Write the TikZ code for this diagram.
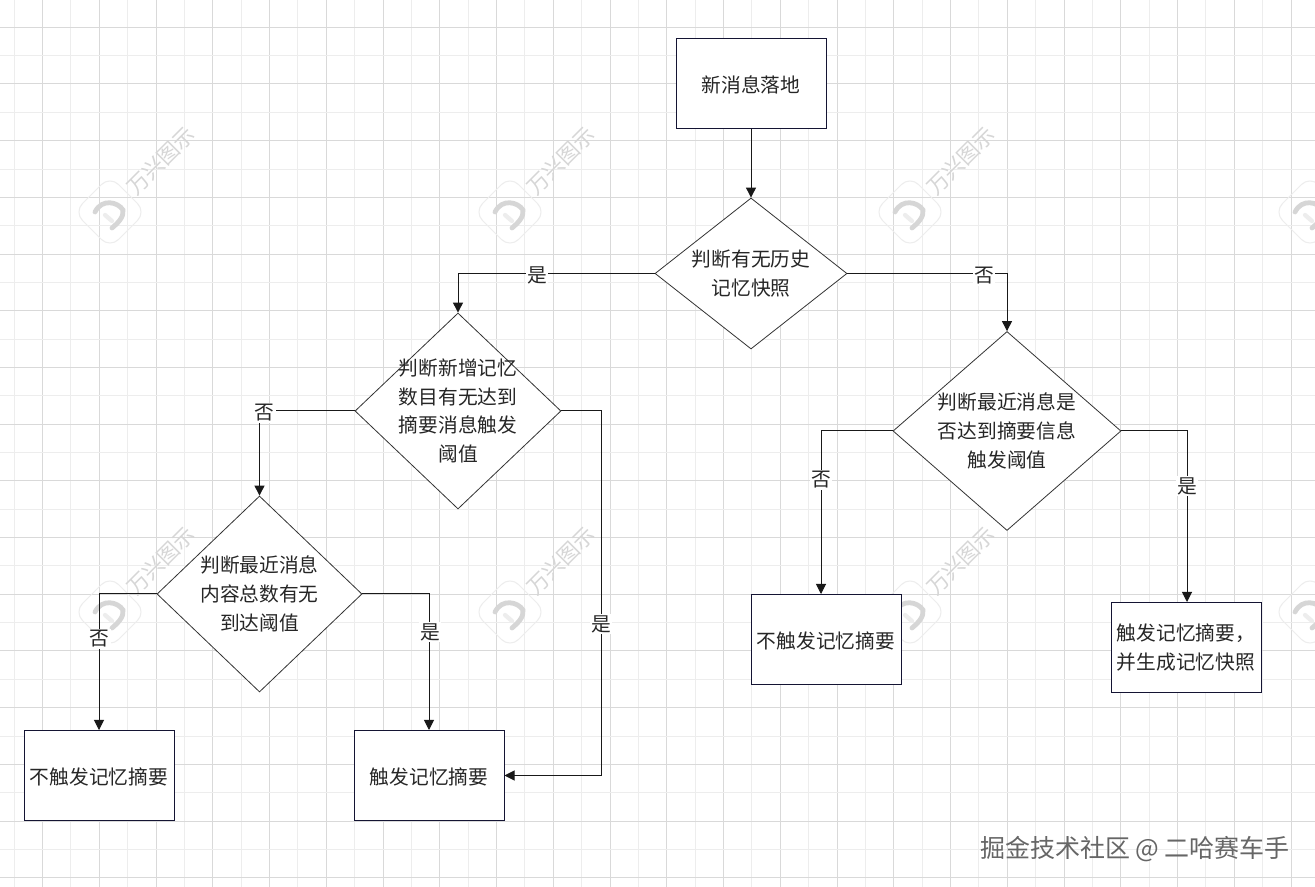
\documentclass[tikz,border=0pt]{standalone}
\usepackage{fontspec}
\usepackage{tikz}
\usetikzlibrary{arrows.meta,shapes.geometric}
\newfontfamily\cjk{Noto Sans CJK SC}
\definecolor{boxline}{rgb}{0.08,0.08,0.2}
\definecolor{gridmajor}{rgb}{0.85,0.85,0.85}
\definecolor{gridminor}{rgb}{0.93,0.93,0.93}
\definecolor{markgray}{rgb}{0.84,0.84,0.84}
\tikzset{
  stepbox/.style={draw=boxline,line width=0.75pt,fill=white,minimum width=112.5pt,minimum height=67.5pt,inner sep=0pt,align=center,text=black!85,font=\cjk\fontsize{14.8}{21.5}\selectfont,execute at begin node={\rule{0pt}{15.2pt}}},
  judge/.style={diamond,draw=black!80,line width=0.6pt,fill=white,inner sep=-20pt,align=center,text=black!85,font=\cjk\fontsize{14.8}{21.5}\selectfont,execute at begin node={\rule{0pt}{15.2pt}}},
  flow/.style={draw=black!90,line width=0.75pt,-{Triangle[length=7.5pt,width=7.5pt]}},
  branch/.style={fill=white,inner sep=1pt,text=black!85,font=\cjk\fontsize{14.8}{16}\selectfont},
  markname/.style={rotate=45,text=markgray,font=\cjk\fontsize{16}{16}\selectfont}
}

\begin{document}
\begin{tikzpicture}[x=0.75pt,y=0.75pt,yscale=-1,xscale=1]
\useasboundingbox (0,0) rectangle (1315,887);
\fill [white] (0,0) rectangle (1315,887);

%Grid
\foreach \i in {0,...,22} {
  \draw [gridminor,line width=0.75pt] ({14.1+56.75*\i},0) -- ({14.1+56.75*\i},887);
  \draw [gridmajor,line width=0.75pt] ({42.5+56.75*\i},0) -- ({42.5+56.75*\i},887);
}
\foreach \i in {0,...,14} {
  \draw [gridminor,line width=0.75pt] (0,{55.7+56.7*\i}) -- (1315,{55.7+56.7*\i});
}
\foreach \i in {0,...,15} {
  \draw [gridmajor,line width=0.75pt] (0,{27.3+56.7*\i}) -- (1315,{27.3+56.7*\i});
}

%Watermarks
\foreach \mx/\my in {110/212,510/212,910/212,1310/212,110/612,510/612,910/612,1310/612} {
  \draw [gridminor,line width=0.75pt,rounded corners=9pt] (\mx-36,\my) -- (\mx,\my-36) -- (\mx+36,\my) -- (\mx,\my+36) -- cycle;
  \draw [markgray,line width=3.6pt,line cap=round] (\mx-15,\my) .. controls (\mx-8,\my-14) and (\mx+8,\my-10) .. (\mx+13,\my-2) .. controls (\mx+14,\my+5) and (\mx+8,\my+11) .. (\mx+2,\my+16);
  \draw [gridminor,line width=3.2pt,line cap=round] (\mx-5,\my+3) -- (\mx+2,\my+9);
}
\foreach \mx/\my in {110/212,510/212,910/212,110/612,510/612,910/612} {
  \node [markname] (mark\mx\my) at (\mx+51,\my-51) {万兴图示};
}

%Process boxes
\node [stepbox] (start) at (751,83.5) {新消息落地};
\node [judge,minimum width=144pt,minimum height=113.25pt] (hist) at (751,273.5) {判断有无历史\\记忆快照};
\node [judge,minimum width=154.5pt,minimum height=147pt] (added) at (458,411) {判断新增记忆\\数目有无达到\\摘要消息触发\\阈值};
\node [judge,minimum width=171pt,minimum height=149.25pt] (recent) at (1007,431) {判断最近消息是\\否达到摘要信息\\触发阈值};
\node [judge,minimum width=153.75pt,minimum height=147pt] (total) at (259.5,594) {判断最近消息\\内容总数有无\\到达阈值};
\node [stepbox] (skipa) at (99,775.5) {不触发记忆摘要};
\node [stepbox] (firea) at (429,775.5) {触发记忆摘要};
\node [stepbox] (skipb) at (826,639.5) {不触发记忆摘要};
\node [stepbox] (fireb) at (1186,647.5) {触发记忆摘要，\\并生成记忆快照};

\coordinate (skipbin) at (821,594);
\coordinate (fireain) at (601,775.5);
\coordinate (firebin) at (1187,602);

%Connectors
\draw [flow] (start) -- (hist);
\draw [flow] (hist.west) -| (added.north);
\draw [flow] (hist.east) -| (recent.north);
\draw [flow] (added.west) -| (total.north);
\draw [flow] (added.east) -| (fireain) -- (firea.east);
\draw [flow] (recent.west) -| (skipbin);
\draw [flow] (recent.east) -| (firebin);
\draw [flow] (total.west) -| (skipa.north);
\draw [flow] (total.east) -| (firea.north);

%Branch labels
\node [branch] (yesa) at (537,275) {是};
\node [branch] (noa) at (984,276) {否};
\node [branch] (nob) at (264.5,413) {否};
\node [branch] (yesb) at (601,624) {是};
\node [branch] (noc) at (821,480) {否};
\node [branch] (yesc) at (1187,486) {是};
\node [branch] (nod) at (99.5,639) {否};
\node [branch] (yesd) at (430,632) {是};

%Site mark
\node [text=black!60,font=\cjk\fontsize{18.75}{20}\selectfont] (site) at (1135,849) {掘金技术社区 @ 二哈赛车手};
\end{tikzpicture}
\end{document}
